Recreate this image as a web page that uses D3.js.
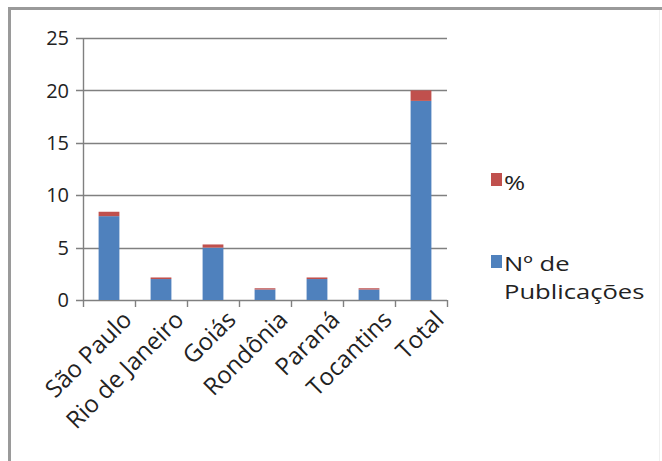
<!DOCTYPE html>
<html>
<head>
<meta charset="utf-8">
<script src="https://cdn.jsdelivr.net/npm/d3@7"></script>
<style>
  body { margin: 0; background: #fff; }
  text { font-family: "Open Sans", sans-serif; fill: #222; }
</style>
</head>
<body>
<svg id="chart" width="662" height="461"></svg>
<script>
(function() {

  var categories = ['São Paulo', 'Rio de Janeiro', 'Goiás', 'Rondônia', 'Paraná', 'Tocantins', 'Total'];
  var publicacoes = [8, 2, 5, 1, 2, 1, 19];
  var percent = [0.42, 0.15, 0.3, 0.12, 0.15, 0.12, 1];
  var yTicks = [0, 5, 10, 15, 20, 25];
  var seriesNames = ['Nº de Publicações', '%'];

  var colors = ['#4F81BD', '#C0504D'];

  var svg = d3.select('#chart');

  // frame round the picture
  svg.append('path')
    .attr('d', 'M9.5,461 L9.5,8.5 L662,8.5')
    .attr('fill', 'none')
    .attr('stroke', '#9a9a9a')
    .attr('stroke-width', 3);
  svg.append('line')
    .attr('x1', 659.5).attr('x2', 659.5)
    .attr('y1', 10).attr('y2', 461)
    .attr('stroke', '#f0f0f0');

  var x = d3.scaleBand()
    .domain(categories)
    .range([83, 447])
    .paddingInner(0.6)
    .paddingOuter(0.3);

  var y = d3.scaleLinear()
    .domain([0, 25])
    .range([300, 38]);

  // gridlines
  svg.append('g')
    .selectAll('line')
    .data(yTicks)
    .enter().append('line')
    .attr('x1', 76)
    .attr('x2', 447)
    .attr('y1', function(d) { return Math.round(y(d)) + 0.5; })
    .attr('y2', function(d) { return Math.round(y(d)) + 0.5; })
    .attr('stroke', '#808080')
    .attr('stroke-width', 1.4);

  // y axis line + labels
  svg.append('line')
    .attr('x1', 83.5).attr('x2', 83.5)
    .attr('y1', y(25)).attr('y2', y(0))
    .attr('stroke', '#808080')
    .attr('stroke-width', 1.4);

  svg.append('g')
    .selectAll('text')
    .data(yTicks)
    .enter().append('text')
    .attr('x', 69)
    .attr('y', function(d) { return y(d); })
    .attr('dy', '0.36em')
    .attr('text-anchor', 'end')
    .style('font-size', '20px')
    .text(function(d) { return d; });

  // category tick marks on the band edges
  var edges = categories.map(function(c) { return x(c) - x.step() * x.paddingInner() / 2; });
  edges.push(447);
  svg.append('g')
    .selectAll('line')
    .data(edges)
    .enter().append('line')
    .attr('x1', function(d) { return Math.round(d) + 0.5; })
    .attr('x2', function(d) { return Math.round(d) + 0.5; })
    .attr('y1', y(0))
    .attr('y2', y(0) + 7)
    .attr('stroke', '#808080')
    .attr('stroke-width', 1.4);

  // stacked bars
  var rows = categories.map(function(c, i) {
    return { cat: c, pub: publicacoes[i], pct: percent[i] };
  });
  var stack = d3.stack().keys(['pub', 'pct'])(rows);

  svg.append('g')
    .selectAll('g')
    .data(stack)
    .enter().append('g')
    .attr('fill', function(d, i) { return colors[i]; })
    .selectAll('rect')
    .data(function(d) { return d; })
    .enter().append('rect')
    .attr('x', function(d) { return x(d.data.cat); })
    .attr('y', function(d) { return y(d[1]); })
    .attr('width', x.bandwidth())
    .attr('height', function(d) { return y(d[0]) - y(d[1]); });

  // rotated category labels
  svg.append('g')
    .selectAll('text')
    .data(categories)
    .enter().append('text')
    .attr('transform', function(d) {
      return 'translate(' + (x(d) + x.bandwidth() / 2 + 12) + ',' + 309 + ') rotate(-45)';
    })
    .attr('text-anchor', 'end')
    .attr('dy', '0.72em')
    .style('font-size', '24px')
    .text(function(d) { return d; });

  // legend (text is wide in the original, so stretch it sideways)
  var legend = svg.append('g');
  legend.append('rect')
    .attr('x', 491).attr('y', 173)
    .attr('width', 11).attr('height', 13)
    .attr('fill', colors[1]);
  legend.append('text')
    .attr('transform', 'translate(504,190) scale(1.28,1)')
    .style('font-size', '20px')
    .text(seriesNames[1]);

  legend.append('rect')
    .attr('x', 491).attr('y', 255)
    .attr('width', 11).attr('height', 13)
    .attr('fill', colors[0]);
  var t = legend.append('text')
    .attr('transform', 'translate(504,271) scale(1.28,1)')
    .style('font-size', '20px');
  t.append('tspan').attr('x', 0).text('Nº de');
  t.append('tspan').attr('x', 0).attr('dy', 28).text('Publicações');

})();
</script>
</body>
</html>
